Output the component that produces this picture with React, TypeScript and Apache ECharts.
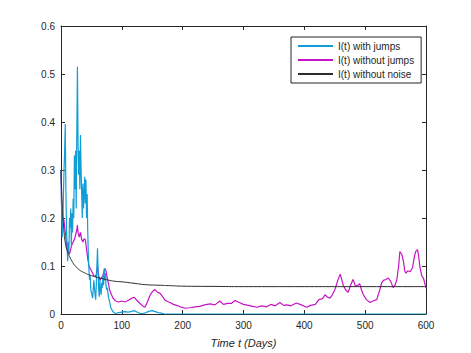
import React, { useEffect, useRef } from "react";
import * as echarts from "echarts";

// Tick values
const xTicks = [0, 100, 200, 300, 400, 500, 600];
const yTicks = [0, 0.1, 0.2, 0.3, 0.4, 0.5, 0.6];

const seriesNames = ["I(t) with jumps", "I(t) without jumps", "I(t) without noise"];

// I(t) with jumps
const tJumps = [0, 1, 2, 3, 4, 5, 6, 7, 8, 9, 10, 11, 12, 13, 14, 15, 16, 17, 18, 19, 20, 21, 22, 23, 24, 25, 26, 27, 28, 29, 30, 31, 32, 33, 34, 35, 36, 37, 38, 39, 40, 41, 42, 43, 44, 45, 46, 47, 48, 49, 50, 52, 54, 56, 57, 58, 59, 60, 61, 62, 63, 64, 65, 66, 67, 68, 69, 70, 71, 72, 73, 74, 75, 76, 78, 80, 82, 84, 86, 88, 90, 95, 100, 105, 110, 115, 120, 125, 130, 135, 140, 145, 150, 155, 160, 165, 170, 175, 180, 600];
const vJumps = [0.3, 0.22, 0.16, 0.19, 0.25, 0.3, 0.34, 0.396, 0.26, 0.18, 0.14, 0.11, 0.15, 0.13, 0.2, 0.18, 0.22, 0.14, 0.21, 0.17, 0.24, 0.2, 0.33, 0.26, 0.34, 0.22, 0.38, 0.515, 0.36, 0.29, 0.34, 0.26, 0.373, 0.3, 0.25, 0.2, 0.272, 0.22, 0.25, 0.286, 0.23, 0.28, 0.2, 0.25, 0.17, 0.12, 0.09, 0.071, 0.08, 0.05, 0.045, 0.033, 0.07, 0.04, 0.03, 0.06, 0.1, 0.137, 0.09, 0.05, 0.036, 0.07, 0.05, 0.04, 0.065, 0.055, 0.08, 0.06, 0.095, 0.07, 0.085, 0.06, 0.05, 0.055, 0.035, 0.025, 0.012, 0.008, 0.004, 0.002, 0.001, 0.003, 0.004, 0.005, 0.004, 0.005, 0.007, 0.004, 0.001, 0.001, 0.003, 0.006, 0.007, 0.005, 0.003, 0.002, 0, 0, 0, 0];

// I(t) without jumps
const tNoJumps = [0, 1, 2, 3, 4, 5, 6, 7, 8, 9, 10, 12, 14, 16, 18, 20, 22, 24, 26, 27, 28, 30, 32, 34, 36, 38, 40, 42, 44, 46, 48, 50, 52, 54, 56, 58, 60, 62, 64, 66, 68, 70, 72, 74, 76, 78, 80, 83, 86, 90, 95, 100, 105, 110, 115, 120, 125, 130, 135, 138, 142, 146, 150, 154, 158, 163, 167, 171, 175, 179, 185, 190, 196, 204, 212, 220, 228, 236, 245, 253, 261, 267, 274, 280, 286, 293, 300, 308, 315, 322, 330, 338, 345, 352, 360, 366, 371, 378, 387, 395, 404, 410, 418, 424, 430, 434, 438, 442, 446, 450, 455, 459, 464, 468, 472, 476, 480, 484, 488, 491, 494, 497, 502, 508, 513, 519, 524, 527, 530, 534, 538, 542, 546, 549, 552, 555, 557, 560, 563, 565, 567, 570, 574, 578, 581, 583, 586, 588, 590, 593, 596, 600];
const vNoJumps = [0.3, 0.22, 0.19, 0.2, 0.2, 0.195, 0.18, 0.17, 0.16, 0.145, 0.14, 0.13, 0.125, 0.135, 0.145, 0.15, 0.155, 0.165, 0.175, 0.185, 0.17, 0.16, 0.17, 0.155, 0.15, 0.157, 0.155, 0.135, 0.115, 0.1, 0.095, 0.09, 0.085, 0.08, 0.078, 0.082, 0.1, 0.08, 0.07, 0.075, 0.078, 0.085, 0.095, 0.09, 0.075, 0.064, 0.05, 0.04, 0.032, 0.027, 0.025, 0.027, 0.025, 0.028, 0.032, 0.035, 0.028, 0.022, 0.016, 0.014, 0.025, 0.038, 0.046, 0.051, 0.046, 0.043, 0.036, 0.029, 0.026, 0.024, 0.02, 0.018, 0.015, 0.012, 0.013, 0.015, 0.016, 0.019, 0.021, 0.019, 0.027, 0.02, 0.022, 0.022, 0.028, 0.024, 0.02, 0.018, 0.016, 0.014, 0.017, 0.015, 0.02, 0.017, 0.024, 0.018, 0.019, 0.017, 0.023, 0.019, 0.014, 0.018, 0.02, 0.03, 0.032, 0.04, 0.035, 0.033, 0.04, 0.05, 0.07, 0.083, 0.06, 0.05, 0.045, 0.06, 0.072, 0.058, 0.06, 0.063, 0.05, 0.04, 0.03, 0.024, 0.027, 0.03, 0.05, 0.065, 0.07, 0.072, 0.075, 0.068, 0.055, 0.06, 0.071, 0.1, 0.13, 0.125, 0.109, 0.09, 0.085, 0.09, 0.088, 0.097, 0.12, 0.13, 0.134, 0.12, 0.098, 0.08, 0.074, 0.054];

// I(t) without noise
const tNoNoise = [0, 1, 2, 3, 4, 5, 6, 8, 10, 12, 15, 18, 21, 25, 30, 35, 40, 45, 50, 60, 70, 80, 90, 100, 120, 140, 160, 180, 200, 250, 300, 400, 500, 600];
const vNoNoise = [0.3, 0.26, 0.23, 0.205, 0.185, 0.17, 0.158, 0.142, 0.133, 0.126, 0.117, 0.11, 0.104, 0.098, 0.092, 0.088, 0.085, 0.082, 0.08, 0.076, 0.073, 0.07, 0.068, 0.067, 0.064, 0.061, 0.06, 0.059, 0.058, 0.0575, 0.057, 0.057, 0.057, 0.057];

const pairs = (t: number[], v: number[]) => t.map((x, i) => [x, v[i]]);

const AXIS = "#262626";
const FONT = "Liberation Sans, Arial, sans-serif";

export default function App() {
  const ref = useRef<HTMLDivElement>(null);
  useEffect(() => {
    if (!ref.current) return;
    const chart = echarts.init(ref.current, undefined, { renderer: "svg" });
    const axisCommon = {
      axisLine: { show: true, onZero: false, lineStyle: { color: AXIS, width: 1 } },
      axisTick: { show: true, inside: true, length: 4, lineStyle: { color: AXIS } },
      splitLine: { show: false },
    };
    chart.setOption({
      animation: false,
      backgroundColor: "#ffffff",
      textStyle: { fontFamily: FONT },
      grid: { left: 61, right: 45, top: 26, bottom: 39 },
      legend: {
        orient: "vertical",
        left: 291,
        top: 37,
        data: seriesNames,
        backgroundColor: "#ffffff",
        borderColor: AXIS,
        borderWidth: 1,
        borderRadius: 0,
        padding: [3, 7, 3, 6],
        itemWidth: 35,
        itemHeight: 10,
        itemGap: 2,
        itemStyle: { opacity: 0 },
        textStyle: { fontSize: 10, color: AXIS, fontFamily: FONT, lineHeight: 12 },
      },
      xAxis: [
        {
          type: "value",
          position: "bottom",
          min: xTicks[0],
          max: xTicks[xTicks.length - 1],
          interval: 100,
          ...axisCommon,
          axisLabel: { color: AXIS, fontSize: 10, margin: 6, fontFamily: FONT },
          name: "Time t (Days)",
          nameLocation: "middle",
          nameGap: 23,
          nameTextStyle: { fontStyle: "italic", fontSize: 11, color: AXIS, fontFamily: FONT },
        },
        {
          type: "value",
          position: "top",
          min: xTicks[0],
          max: xTicks[xTicks.length - 1],
          interval: 100,
          ...axisCommon,
          axisLabel: { show: false },
        },
      ],
      yAxis: [
        {
          type: "value",
          position: "left",
          min: yTicks[0],
          max: yTicks[yTicks.length - 1],
          interval: 0.1,
          ...axisCommon,
          axisLabel: { color: AXIS, fontSize: 10, margin: 6, fontFamily: FONT },
        },
        {
          type: "value",
          position: "right",
          min: yTicks[0],
          max: yTicks[yTicks.length - 1],
          interval: 0.1,
          ...axisCommon,
          axisLabel: { show: false },
        },
      ],
      series: [
        {
          name: seriesNames[0],
          type: "line",
          data: pairs(tJumps, vJumps),
          showSymbol: false,
          symbol: "none",
          lineStyle: { color: "#0f9ed5", width: 1.2 },
          itemStyle: { color: "#0f9ed5" },
          z: 3,
        },
        {
          name: seriesNames[1],
          type: "line",
          data: pairs(tNoJumps, vNoJumps),
          showSymbol: false,
          symbol: "none",
          lineStyle: { color: "#c613c6", width: 1.2 },
          itemStyle: { color: "#c613c6" },
          z: 2,
        },
        {
          name: seriesNames[2],
          type: "line",
          data: pairs(tNoNoise, vNoNoise),
          showSymbol: false,
          symbol: "none",
          smooth: true,
          lineStyle: { color: "#2b2b2b", width: 1 },
          itemStyle: { color: "#2b2b2b" },
          z: 4,
        },
      ],
    });
    return () => chart.dispose();
  }, []);
  return (
    <div
      ref={ref}
      style={{ position: "absolute", left: 0, top: 0, width: 471, height: 353, background: "#fff" }}
    />
  );
}
